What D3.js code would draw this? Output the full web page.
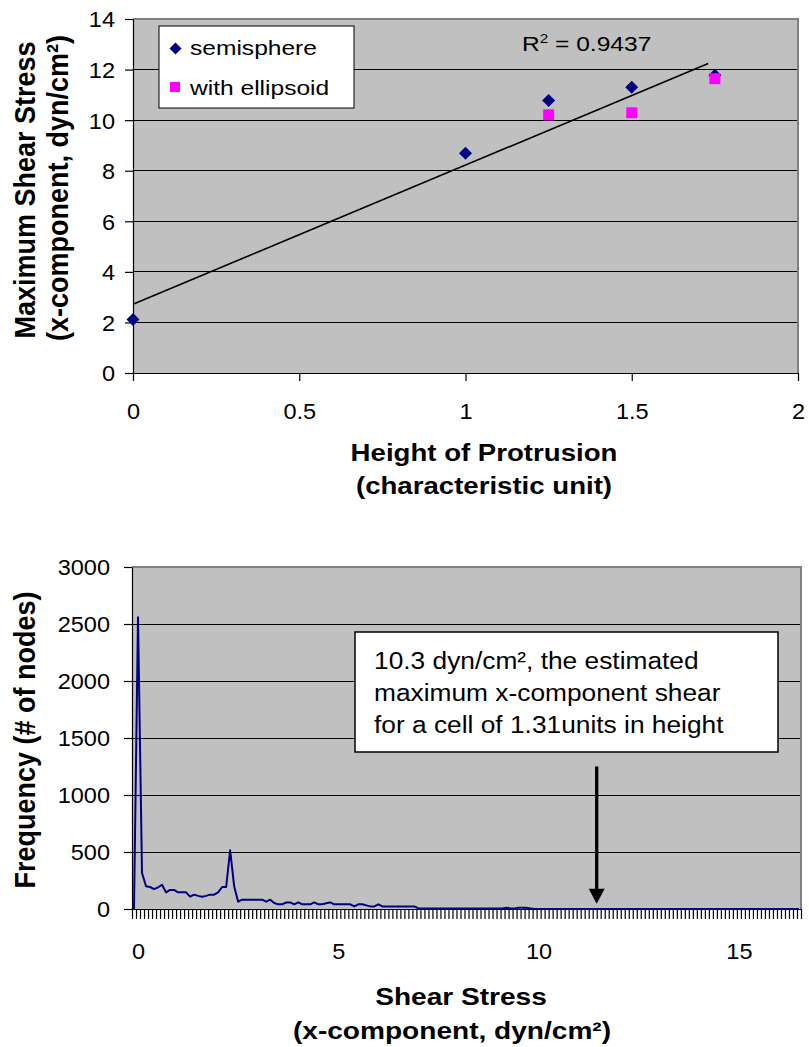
<!DOCTYPE html>
<html><head><meta charset="utf-8">
<script src="https://cdn.jsdelivr.net/npm/d3@7"></script>
<style>
html,body{margin:0;padding:0;background:#fff;}
svg{display:block;font-family:"Liberation Sans",Arial,sans-serif;}
</style></head><body>
<svg id="chart" width="809" height="1047"></svg>
<script>
// ---- Maximum shear stress vs. protrusion height ----
const heights = [0, 1, 1.25, 1.5, 1.75];
const semisphere = [2.12, 8.69, 10.78, 11.30, 11.78];
const ellipsoidHeights = [1.25, 1.5, 1.75];
const ellipsoid = [10.21, 10.29, 11.64];
const trendHeights = [0, 1.73];
const trendStress = [2.72, 12.24];
const rSquared = "0.9437";
const heightTicks = [0, 0.5, 1, 1.5, 2];
const stressTicks = [0, 2, 4, 6, 8, 10, 12, 14];

// ---- Distribution of x-component shear stress over the mesh nodes ----
const binStart = -0.1, binWidth = 0.1;
const frequency = [
  0, 2560, 316, 199, 193, 175, 190, 213, 146, 167,
  167, 146, 146, 146, 108, 126, 115, 108, 115, 126,
  126, 146, 193, 193, 515, 200, 64, 82, 82, 82,
  82, 82, 82, 64, 82, 53, 41, 41, 58, 58,
  41, 58, 41, 41, 41, 58, 41, 41, 50, 58,
  41, 41, 41, 41, 41, 23, 41, 41, 32, 23,
  23, 41, 23, 23, 23, 23, 23, 23, 23, 23,
  23, 5, 5, 5, 5, 5, 5, 5, 5, 5,
  5, 5, 5, 5, 5, 5, 5, 5, 5, 5,
  5, 5, 5, 10, 5, 5, 10, 10, 10, 5,
  0, 0, 0, 0, 0, 0, 0, 0, 0, 0,
  0, 0, 0, 0, 0, 0, 0, 0, 0, 0,
  0, 0, 0, 0, 0, 0, 0, 0, 0, 0,
  0, 0, 0, 0, 0, 0, 0, 0, 0, 0,
  0, 0, 0, 0, 0, 0, 0, 0, 0, 0,
  0, 0, 0, 0, 0, 0, 0, 0, 0, 0,
  0, 0, 0, 0, 0, 0, 0
];
const shearLabels = [0, 5, 10, 15];
const freqTicks = [0, 500, 1000, 1500, 2000, 2500, 3000];
const arrowShear = 11.45, arrowFromFreq = 1250, arrowToFreq = 45;
const noteLines = [
  "10.3 dyn/cm², the estimated",
  "maximum x-component shear",
  "for a cell of 1.31units in height"
];

const SX = 1.15;              // horizontal text stretch
const SX_TICK = 1.07;
const FONT = '"Liberation Sans", Arial, sans-serif';
const svg = d3.select("#chart");

function stretchAxisText(sel, s) {
  sel.selectAll("text").each(function () {
    const t = d3.select(this);
    const x = +t.attr("x") || 0, y = +t.attr("y") || 0;
    t.attr("x", null).attr("y", null)
     .attr("transform", `translate(${x},${y}) scale(${s},1)`);
  });
}
function label(g, x, y, str, size, anchor, weight, s) {
  return g.append("text")
    .attr("transform", `translate(${x},${y}) scale(${s || SX},1)`)
    .attr("text-anchor", anchor || "start")
    .attr("font-size", size)
    .attr("font-weight", weight || "normal")
    .attr("fill", "#000")
    .text(str);
}
function vlabel(g, x, y, str, size) {
  return g.append("text")
    .attr("transform", `translate(${x},${y}) rotate(-90) scale(1,1.12)`)
    .attr("text-anchor", "middle")
    .attr("font-size", size)
    .attr("font-weight", "bold")
    .text(str);
}

// ================= top chart =================
const P1 = {l: 133, r: 798, t: 19, b: 373};
const x1 = d3.scaleLinear().domain([0, 2]).range([P1.l, P1.r]);
const y1 = d3.scaleLinear().domain([0, 14]).range([P1.b, P1.t]);
const g1 = svg.append("g");

g1.append("rect").attr("x", P1.l).attr("y", P1.t)
  .attr("width", P1.r - P1.l).attr("height", P1.b - P1.t).attr("fill", "#C0C0C0");
g1.selectAll("line.grid").data(stressTicks.filter(d => d > 0 && d < 14)).join("line")
  .attr("x1", P1.l).attr("x2", P1.r).attr("y1", d => y1(d)).attr("y2", d => y1(d))
  .attr("stroke", "#000").attr("stroke-width", 1).attr("shape-rendering", "crispEdges");
g1.append("path").attr("d", `M${P1.l},${P1.t}H${P1.r}V${P1.b}`)
  .attr("fill", "none").attr("stroke", "#808080").attr("stroke-width", 2);

const ax1y = g1.append("g").attr("transform", `translate(${P1.l},0)`)
  .call(d3.axisLeft(y1).tickValues(stressTicks).tickSize(8).tickSizeOuter(0).tickPadding(10).tickFormat(d => String(d)));
const ax1x = g1.append("g").attr("transform", `translate(0,${P1.b})`)
  .call(d3.axisBottom(x1).tickValues(heightTicks).tickSize(8).tickSizeOuter(0).tickFormat(d => String(d)));
[ax1y, ax1x].forEach(a => {
  a.attr("font-size", 22).attr("font-family", FONT);
  a.selectAll("line,path").attr("stroke", "#000").attr("stroke-width", 1.2);
});
ax1x.selectAll("text").attr("y", 46).attr("dy", 0);
ax1y.selectAll("text").attr("dy", "0.36em");
stretchAxisText(ax1y, SX_TICK); stretchAxisText(ax1x, SX_TICK);

// trend line
g1.append("line")
  .attr("x1", x1(trendHeights[0])).attr("y1", y1(trendStress[0]))
  .attr("x2", x1(trendHeights[1])).attr("y2", y1(trendStress[1]))
  .attr("stroke", "#000").attr("stroke-width", 1.6);

const diamond = r => `M0,${-r}L${r},0L0,${r}L${-r},0Z`;
g1.selectAll("path.semi").data(semisphere).join("path").attr("class", "semi")
  .attr("transform", (d, i) => `translate(${x1(heights[i])},${y1(d)})`)
  .attr("d", diamond(6.5)).attr("fill", "#000080");
g1.selectAll("rect.ell").data(ellipsoid).join("rect").attr("class", "ell")
  .attr("x", (d, i) => x1(ellipsoidHeights[i]) - 5.5).attr("y", d => y1(d) - 5.5)
  .attr("width", 11).attr("height", 11).attr("fill", "#FF00FF");

// R² label
const rt = g1.append("text").attr("transform", `translate(522,51) scale(1.17,1)`)
  .attr("font-size", 21);
rt.append("tspan").text("R");
rt.append("tspan").attr("font-size", 13).attr("dy", -8).text("2");
rt.append("tspan").attr("dy", 8).text(" = " + rSquared);

// legend
const lg = g1.append("g");
lg.append("rect").attr("x", 159).attr("y", 26).attr("width", 195).attr("height", 82)
  .attr("fill", "#fff").attr("stroke", "#000").attr("stroke-width", 1);
lg.append("path").attr("transform", "translate(175.5,48.5)").attr("d", diamond(6)).attr("fill", "#000080");
lg.append("rect").attr("x", 170).attr("y", 82).attr("width", 10).attr("height", 10).attr("fill", "#FF00FF");
label(lg, 190, 55, "semisphere", 21, "start", "normal", 1.17);
label(lg, 190, 95, "with ellipsoid", 21, "start", "normal", 1.17);

// titles
vlabel(g1, 35, 190, "Maximum Shear Stress", 27);
vlabel(g1, 68, 188, "(x-component, dyn/cm²)", 27);
label(g1, 484, 461, "Height of Protrusion", 24, "middle", "bold");
label(g1, 484, 494, "(characteristic unit)", 24, "middle", "bold");

// ================= bottom chart =================
const P2 = {l: 132, r: 801, t: 567, b: 909};
const nBins = frequency.length;
const categories = frequency.map((_, i) => +(binStart + i * binWidth).toFixed(1));
const x2 = d3.scaleLinear()
  .domain([binStart - binWidth / 2, binStart + (nBins - 0.5) * binWidth])
  .range([P2.l, P2.r]);
const y2 = d3.scaleLinear().domain([0, 3000]).range([P2.b, P2.t]);
const g2 = svg.append("g");

g2.append("rect").attr("x", P2.l).attr("y", P2.t)
  .attr("width", P2.r - P2.l).attr("height", P2.b - P2.t).attr("fill", "#C0C0C0");
g2.selectAll("line.grid").data(freqTicks.filter(d => d > 0 && d < 3000)).join("line")
  .attr("x1", P2.l).attr("x2", P2.r).attr("y1", d => y2(d)).attr("y2", d => y2(d))
  .attr("stroke", "#000").attr("stroke-width", 1).attr("shape-rendering", "crispEdges");
g2.append("path").attr("d", `M${P2.l},${P2.t}H${P2.r}V${P2.b}`)
  .attr("fill", "none").attr("stroke", "#808080").attr("stroke-width", 2);

const boundaries = d3.range(nBins + 1).map(i => binStart - binWidth / 2 + i * binWidth);
const ax2y = g2.append("g").attr("transform", `translate(${P2.l},0)`)
  .call(d3.axisLeft(y2).tickValues(freqTicks).tickSize(8).tickSizeOuter(0).tickPadding(14).tickFormat(d => String(d)));
const ax2x = g2.append("g").attr("transform", `translate(0,${P2.b})`)
  .call(d3.axisBottom(x2).tickValues(boundaries).tickSize(10).tickSizeOuter(0).tickFormat(() => ""));
const ax2l = g2.append("g").attr("transform", `translate(0,${P2.b})`)
  .call(d3.axisBottom(x2).tickValues(shearLabels).tickSize(0).tickFormat(d => String(d)));
ax2l.select(".domain").remove();
[ax2y, ax2x, ax2l].forEach(a => {
  a.attr("font-size", 22).attr("font-family", FONT);
  a.selectAll("line,path").attr("stroke", "#000").attr("stroke-width", 1.2);
});
ax2y.selectAll("text").attr("dy", "0.36em");
ax2l.selectAll("text").attr("y", 50).attr("dy", 0);
stretchAxisText(ax2y, SX_TICK); stretchAxisText(ax2l, SX_TICK);

// frequency line
g2.append("path").datum(frequency)
  .attr("d", d3.line().x((d, i) => x2(categories[i])).y(d => y2(d)))
  .attr("fill", "none").attr("stroke", "#000080").attr("stroke-width", 2)
  .attr("stroke-linejoin", "round");

// annotation box
const nb = g2.append("g");
nb.append("rect").attr("x", 355).attr("y", 632).attr("width", 423).attr("height", 120)
  .attr("fill", "#fff").attr("stroke", "#000").attr("stroke-width", 1.5);
noteLines.forEach((s, i) => label(nb, 374, 669 + i * 32, s, 23.5, "start", "normal", 1.12));

// arrow
const ax = x2(arrowShear);
g2.append("line").attr("x1", ax).attr("x2", ax)
  .attr("y1", y2(arrowFromFreq)).attr("y2", y2(arrowToFreq) - 12)
  .attr("stroke", "#000").attr("stroke-width", 3.3);
g2.append("path")
  .attr("d", `M${ax - 8},${y2(arrowToFreq) - 15}L${ax + 8},${y2(arrowToFreq) - 15}L${ax},${y2(arrowToFreq)}Z`)
  .attr("fill", "#000");

// titles
vlabel(g2, 35, 740, "Frequency (# of nodes)", 27);
label(g2, 461, 1005, "Shear Stress", 24, "middle", "bold", 1.17);
label(g2, 452, 1039, "(x-component, dyn/cm²)", 24, "middle", "bold", 1.17);
</script>
</body></html>
